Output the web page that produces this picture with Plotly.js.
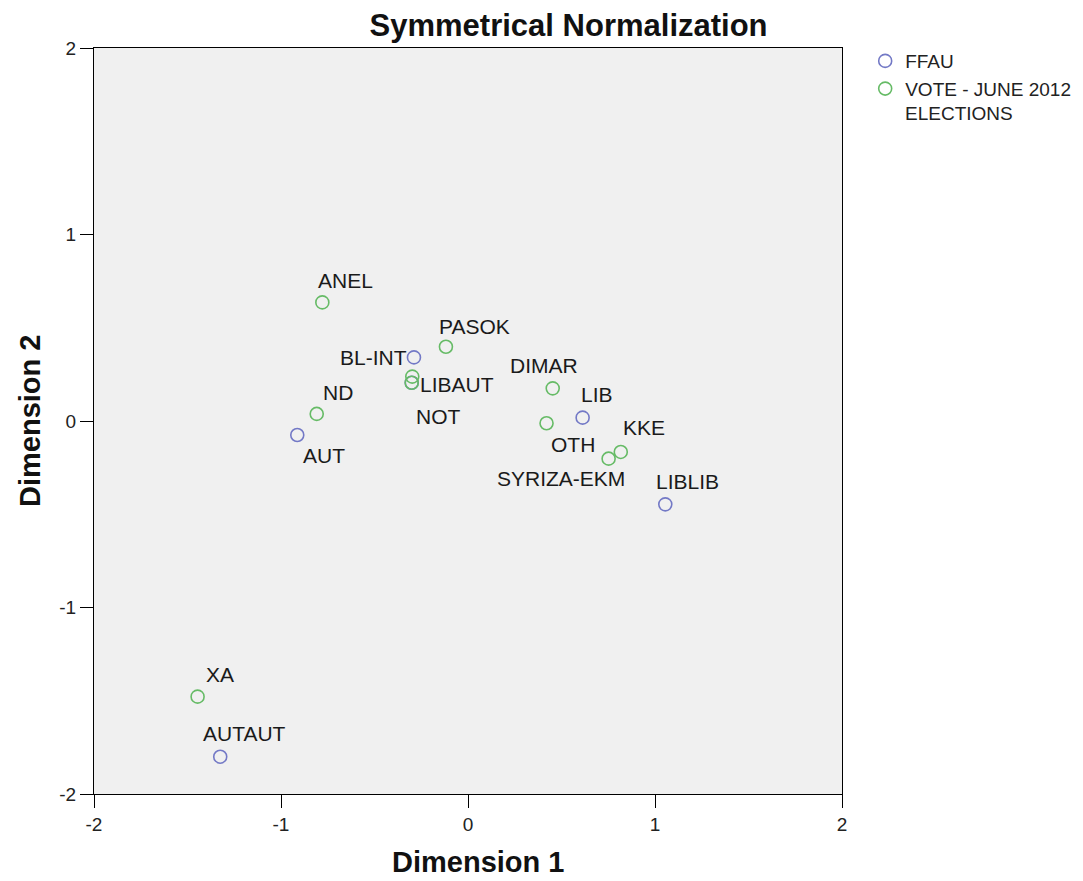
<!DOCTYPE html>
<html>
<head>
<meta charset="utf-8">
<script src="https://cdn.plot.ly/plotly-3.0.1.min.js"></script>
<style>body{margin:0;background:#fff}#chart{width:1083px;height:881px}</style>
</head>
<body>
<div id="chart"></div>
<script>
// FFAU categories (blue)
const ffauNames = ["BL-INT", "LIBAUT", "AUT", "LIB", "LIBLIB", "AUTAUT"];
const ffauX = [-0.289, -0.301, -0.913, 0.613, 1.055, -1.325];
const ffauY = [0.341, 0.205, -0.075, 0.018, -0.447, -1.800];

// Vote - June 2012 elections categories (green)
const voteNames = ["ANEL", "PASOK", "NOT", "", "ND", "DIMAR", "OTH", "KKE", "SYRIZA-EKM", "XA"];
const voteX = [-0.779, -0.118, -0.298, -0.301, -0.809, 0.453, 0.420, 0.817, 0.752, -1.446];
const voteY = [0.636, 0.398, 0.238, 0.205, 0.038, 0.175, -0.012, -0.166, -0.202, -1.478];

// label offsets in pixels (label placement only)
const ffauShift = [[-40, 0], [45, -2], [27, -21], [14, 23], [22, 23], [24, 23]];
const voteShift = [[23, 22], [29, 20], [26, -40], [0, 0], [21, 21], [-9, 23], [26, -21], [23, 24], [-48, -20], [22, 22]];

const axisTicks = [-2, -1, 0, 1, 2];
const tickText = ["-2", "-1", "0", "1", "2"];
const seriesNames = ["FFAU", "VOTE - JUNE 2012", "ELECTIONS"];

const blue = "#7379c6";
const green = "#66bb66";
const FONT = "Liberation Sans, Arial, sans-serif";

const annotations = [];
function addLabels(names, xs, ys, shifts) {
  names.forEach((n, i) => {
    if (!n) return;
    annotations.push({
      x: xs[i], y: ys[i], xref: "x", yref: "y", text: n, showarrow: false,
      xshift: shifts[i][0], yshift: shifts[i][1],
      font: {family: FONT, size: 21, color: "#1a1a1a"}
    });
  });
}
addLabels(ffauNames, ffauX, ffauY, ffauShift);
addLabels(voteNames, voteX, voteY, voteShift);

// axis titles
annotations.push({xref: "paper", yref: "paper", x: 0.513, y: -0.0912, xanchor: "center", yanchor: "middle",
  text: "<b>Dimension 1</b>", showarrow: false, font: {family: FONT, size: 29, color: "#111"}});
annotations.push({xref: "paper", yref: "paper", x: -0.0856, y: 0.5, xanchor: "center", yanchor: "middle",
  textangle: -90, text: "<b>Dimension 2</b>", showarrow: false, font: {family: FONT, size: 29, color: "#111"}});
// second line of the legend entry
annotations.push({xref: "paper", yref: "paper", x: 1.0816, y: 0.912, xanchor: "left", yanchor: "middle",
  text: seriesNames[2], showarrow: false, font: {family: FONT, size: 19, color: "#222"}});

const traces = [
  {x: ffauX, y: ffauY, text: ffauNames, type: "scatter", mode: "markers", name: seriesNames[0],
   marker: {symbol: "circle-open", size: 13, color: blue, line: {width: 1.6, color: blue}}},
  {x: voteX, y: voteY, text: voteNames, type: "scatter", mode: "markers", name: seriesNames[1],
   marker: {symbol: "circle-open", size: 13, color: green, line: {width: 1.6, color: green}}}
];

const axisCommon = {
  range: [-2, 2], tickmode: "array", tickvals: axisTicks, ticktext: tickText,
  showgrid: false, zeroline: false, showline: true, linecolor: "#000", linewidth: 1,
  mirror: true, ticks: "outside", ticklen: 13, tickcolor: "#000", tickwidth: 1,
  tickfont: {family: FONT, size: 19, color: "#222"}
};

const layout = {
  width: 1083, height: 881,
  margin: {l: 94, r: 241, t: 48, b: 87, autoexpand: false},
  paper_bgcolor: "#ffffff", plot_bgcolor: "#f0f0f0",
  title: {text: "<b>Symmetrical Normalization</b>", xref: "container", x: 0.525, xanchor: "center",
          yref: "container", y: 0.972, yanchor: "middle",
          font: {family: FONT, size: 31, color: "#111"}},
  xaxis: Object.assign({}, axisCommon, {tickangle: 0}),
  yaxis: Object.assign({}, axisCommon, {tickangle: 0}),
  legend: {x: 1.031, y: 1.008, xanchor: "left", yanchor: "top", bgcolor: "rgba(255,255,255,0)",
           font: {family: FONT, size: 19, color: "#222"},
           itemwidth: 30, tracegroupgap: 0},
  showlegend: true,
  annotations: annotations
};

Plotly.newPlot("chart", traces, layout, {displayModeBar: false, staticPlot: true});
</script>
</body>
</html>
